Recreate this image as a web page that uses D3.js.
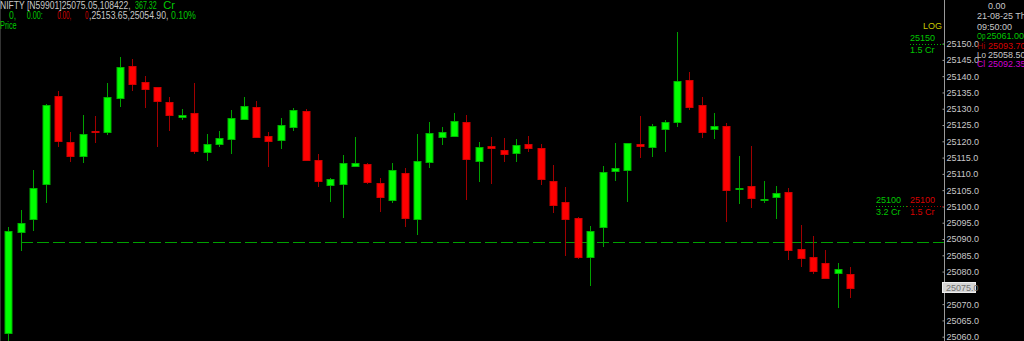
<!DOCTYPE html>
<html>
<head>
<meta charset="utf-8">
<script src="https://cdn.jsdelivr.net/npm/d3@7"></script>
<style>
  html, body { margin: 0; padding: 0; background: #000; }
  svg { display: block; }
  text { font-family: "Liberation Sans", Arial, sans-serif; font-size: 9px; }
</style>
</head>
<body>
<div id="chart"></div>
<script>
// one-minute candles, left to right
var opens = [25061.00, 25092.1, 25096.1, 25106.9, 25133.8, 25119.7, 25115.3, 25123.2, 25122.9, 25133.4,
  25143.1, 25138.1, 25136.6, 25132.1, 25127.7, 25128.6, 25116.5, 25119.2, 25120.6, 25126.8,
  25130.4, 25121.6, 25120.2, 25124.5, 25129.4, 25114.3, 25106.8, 25107.0, 25112.3, 25112.9,
  25107.2, 25102.0, 25110.4, 25096.2, 25113.7, 25121.2, 25121.8, 25125.9, 25114.0, 25118.6,
  25117.4, 25116.3, 25119.3, 25117.9, 25107.9, 25101.3, 25096.5, 25084.4, 25093.8, 25111.0,
  25111.0, 25119.2, 25118.2, 25123.9, 25125.8, 25138.9, 25131.1, 25123.9, 25124.8, 25105.2,
  25106.3, 25102.1, 25102.7, 25104.5, 25087.0, 25084.6, 25082.7, 25079.4, 25079.2];
var highs = [25093.70, 25098.9, 25111.2, 25131.5, 25135.4, 25122.8, 25128.1, 25127.9, 25137.8, 25146.0,
  25145.3, 25140.1, 25136.7, 25133.5, 25130.0, 25137.8, 25122.2, 25123.3, 25129.5, 25133.7,
  25132.4, 25122.9, 25127.1, 25130.1, 25130.0, 25116.1, 25108.6, 25115.8, 25121.2, 25113.4,
  25108.7, 25113.3, 25111.7, 25122.2, 25125.8, 25124.4, 25128.8, 25128.0, 25119.8, 25121.2,
  25121.1, 25120.6, 25121.6, 25119.1, 25112.7, 25105.9, 25096.9, 25093.9, 25112.4, 25119.6,
  25119.4, 25127.8, 25125.3, 25126.5, 25153.65, 25141.2, 25133.7, 25128.8, 25125.5, 25115.5,
  25118.7, 25107.9, 25106.3, 25105.7, 25094.3, 25090.9, 25086.6, 25082.5, 25081.5];
var lows = [25058.50, 25086.3, 25092.5, 25101.2, 25118.3, 25113.6, 25113.4, 25119.4, 25121.8, 25130.5,
  25135.4, 25130.3, 25118.3, 25123.3, 25126.5, 25116.1, 25114.0, 25118.3, 25116.1, 25126.5,
  25120.9, 25112.2, 25117.6, 25123.3, 25114.3, 25106.1, 25101.3, 25096.4, 25112.2, 25106.8,
  25098.4, 25101.2, 25093.6, 25091.3, 25111.7, 25118.8, 25121.4, 25102.0, 25107.6, 25106.8,
  25113.7, 25113.6, 25116.8, 25106.6, 25098.1, 25084.9, 25084.0, 25075.7, 25087.6, 25107.9,
  25101.5, 25114.8, 25115.3, 25116.6, 25124.3, 25129.6, 25120.9, 25120.8, 25095.3, 25100.7,
  25099.6, 25101.0, 25096.2, 25083.6, 25081.3, 25079.3, 25077.9, 25068.9, 25071.8];
var closes = [25092.35, 25094.8, 25105.7, 25131.1, 25120.0, 25115.3, 25122.2, 25122.8, 25133.7, 25142.8,
  25137.5, 25136.1, 25132.3, 25128.1, 25128.2, 25116.8, 25119.1, 25120.9, 25127.2, 25130.8,
  25121.2, 25120.0, 25124.9, 25129.6, 25114.5, 25107.8, 25108.5, 25113.4, 25113.2, 25107.4,
  25103.0, 25111.2, 25096.5, 25114.0, 25122.6, 25122.8, 25126.3, 25114.6, 25118.3, 25118.0,
  25116.2, 25118.9, 25118.2, 25108.4, 25100.4, 25096.2, 25084.6, 25092.5, 25110.7, 25111.9,
  25119.4, 25118.6, 25124.6, 25125.9, 25138.5, 25130.6, 25122.8, 25124.8, 25105.3, 25105.6,
  25102.7, 25102.4, 25104.0, 25086.6, 25084.1, 25080.3, 25078.1, 25080.7, 25075.05];

// price axis ticks
var tickValues = [25060, 25065, 25070, 25075, 25080, 25085, 25090, 25095, 25100, 25105, 25110,
  25115, 25120, 25125, 25130, 25135, 25140, 25145, 25150];
var lastPrice = 25075.05;
var dashLevel = 25089.1;

// header and info panel text
var headerLine1 = [["NIFTY [N59901]25075.05,108422,", "gray"], ["367.32", "green"], ["Cr", "green"]];
var headerLine2 = [["0,", "green"], ["0.00:", "green"], ["0.00,", "red"], ["0", "red"], [",25153.65,25054.90,", "gray"], ["0.10%", "green"]];
var infoLabels = ["Op", "Hi", "Lo", "Cl"];
var infoValues = ["25061.00", "25093.70", "25058.50", "25092.35"];

var W = 1024, H = 341;
var axisX = 944;

var colors = {
  gray: "#c8c8c8",
  green: "#00c800",
  red: "#d80000",
  darkRed: "#a00000",
  magenta: "#d000d0",
  yellow: "#c8c800"
};

var svg = d3.select("#chart").append("svg").attr("width", W).attr("height", H);
svg.append("rect").attr("width", W).attr("height", H).attr("fill", "#000");

// scales
var x = d3.scaleBand().domain(d3.range(opens.length)).range([-0.2, 858.85]).padding(0.4);
var y = d3.scaleLinear().domain([25060, 25150]).range([336.7, 43.6]);
function cx(i) { return Math.round(x(i) + x.bandwidth() / 2) + 0.5; }

// left border
svg.append("line").attr("x1", 0.5).attr("x2", 0.5).attr("y1", 0).attr("y2", H).attr("stroke", "#333");

// dashed level line
svg.append("line").attr("x1", cx(1) - 0.5).attr("x2", axisX).attr("y1", Math.round(y(dashLevel)) + 0.5).attr("y2", Math.round(y(dashLevel)) + 0.5)
  .attr("stroke", "#00a000").attr("stroke-width", 1).attr("stroke-dasharray", "12,4");

// candles
var candles = svg.append("g").selectAll("g").data(d3.range(opens.length)).enter().append("g");
candles.append("line")
  .attr("x1", cx).attr("x2", cx)
  .attr("y1", function (i) { return Math.round(y(highs[i])); })
  .attr("y2", function (i) { return Math.round(y(lows[i])); })
  .attr("stroke", function (i) { return closes[i] >= opens[i] ? "#00a000" : "#a00000"; });
candles.append("rect")
  .attr("x", function (i) { return cx(i) - 3.5; })
  .attr("width", 7)
  .attr("y", function (i) { return Math.round(y(Math.max(opens[i], closes[i]))) + 0.5; })
  .attr("height", function (i) { return Math.max(1, Math.round(Math.abs(y(opens[i]) - y(closes[i])))); })
  .attr("fill", function (i) { return closes[i] >= opens[i] ? "#00ff00" : "#ff0000"; })
  .attr("stroke", function (i) { return closes[i] >= opens[i] ? "#00b400" : "#d00000"; })
  .attr("stroke-width", 1);

// right price axis
svg.append("line").attr("x1", axisX + 0.5).attr("x2", axisX + 0.5).attr("y1", 0).attr("y2", H).attr("stroke", "#9a9a9a");
var yAxis = d3.axisRight(y).tickValues(tickValues).tickFormat(d3.format(".1f")).tickSizeInner(-2).tickSizeOuter(0).tickPadding(2);
var ax = svg.append("g").attr("transform", "translate(" + (axisX + 0.5) + ",0)").call(yAxis);
ax.select(".domain").remove();
ax.selectAll(".tick line").attr("stroke", "#9a9a9a");
ax.selectAll(".tick text").attr("fill", colors.gray).style("font-family", "Liberation Sans, Arial, sans-serif").style("font-size", "9px")
  .style("display", function (d) { return d === 25075 ? "none" : null; });

// last price box
svg.append("rect").attr("x", axisX - 1.5).attr("y", Math.round(y(lastPrice)) - 5.5).attr("width", 33).attr("height", 10)
  .attr("fill", "#d4d4d4").attr("stroke", "#eeeeee");
svg.append("text").attr("x", axisX + 2).attr("y", y(lastPrice)).attr("dy", "0.32em").attr("fill", "#707070")
  .text(d3.format(".1f")(lastPrice));

// level markers near the axis
function levelLine(x1, x2, v, c) {
  svg.append("line").attr("x1", x1).attr("x2", x2).attr("y1", Math.round(y(v)) + 0.5).attr("y2", Math.round(y(v)) + 0.5)
    .attr("stroke", c).attr("stroke-dasharray", "1,2");
}
levelLine(910, axisX, 25150, "#00b000");
svg.append("text").attr("x", 910).attr("y", y(25150) - 3).attr("fill", colors.green).text("25150");
svg.append("text").attr("x", 910).attr("y", y(25150) + 9).attr("fill", colors.green).text("1.5 Cr");
levelLine(876, 907, 25100, "#00b000");
levelLine(907, axisX, 25100, "#a00000");
svg.append("text").attr("x", 876).attr("y", y(25100) - 3).attr("fill", colors.green).text("25100");
svg.append("text").attr("x", 876).attr("y", y(25100) + 9).attr("fill", colors.green).text("3.2 Cr");
svg.append("text").attr("x", 910).attr("y", y(25100) - 3).attr("fill", colors.red).text("25100");
svg.append("text").attr("x", 910).attr("y", y(25100) + 9).attr("fill", colors.red).text("1.5 Cr");
svg.append("text").attr("x", 942).attr("y", 29).attr("text-anchor", "end").attr("fill", colors.yellow).text("LOG");

// header pieces squeezed sideways to the width they take in the terminal font
function fitted(txt, x0, w, yy, c, size) {
  var t = svg.append("text").attr("fill", c).style("font-size", (size || 10) + "px").text(txt);
  var len = t.node().getComputedTextLength();
  t.attr("transform", "translate(" + x0 + "," + yy + ") scale(" + (w / len) + ",1)");
  return t;
}
var line1X = [0, 135, 163.3], line1W = [131, 21.7, 11.7];
headerLine1.forEach(function (d, i) { fitted(d[0], line1X[i], line1W[i], 8.8, colors[d[1]]); });
var line2X = [9, 26.7, 57.3, 85, 89, 171], line2W = [7.2, 16.2, 14, 3.4, 79.5, 25];
headerLine2.forEach(function (d, i) { fitted(d[0], line2X[i], line2W[i], 19.3, colors[d[1]]); });
fitted("Price", 0, 16.7, 28.8, colors.green);

// info panel top-right
svg.append("text").attr("x", 988).attr("y", 8.5).attr("fill", colors.gray).text("0.00");
svg.append("text").attr("x", 977).attr("y", 19).attr("fill", colors.gray).text("21-08-25 Th");
svg.append("text").attr("x", 977).attr("y", 30).attr("fill", colors.gray).text("09:50:00");
var infoY = [38.7, 49, 57.5, 67];
var labelColors = [colors.green, colors.darkRed, colors.gray, colors.magenta];
var valueColors = [colors.green, colors.red, colors.gray, colors.magenta];
var labelW = [8.5, 8.3, 9, 8.3];
var valueX = [986.5, 988, 988, 988];
infoLabels.forEach(function (d, i) {
  fitted(d, 977, labelW[i], infoY[i], labelColors[i], 9);
  svg.append("text").attr("x", valueX[i]).attr("y", infoY[i]).attr("fill", valueColors[i]).text(infoValues[i]);
});
</script>
</body>
</html>
